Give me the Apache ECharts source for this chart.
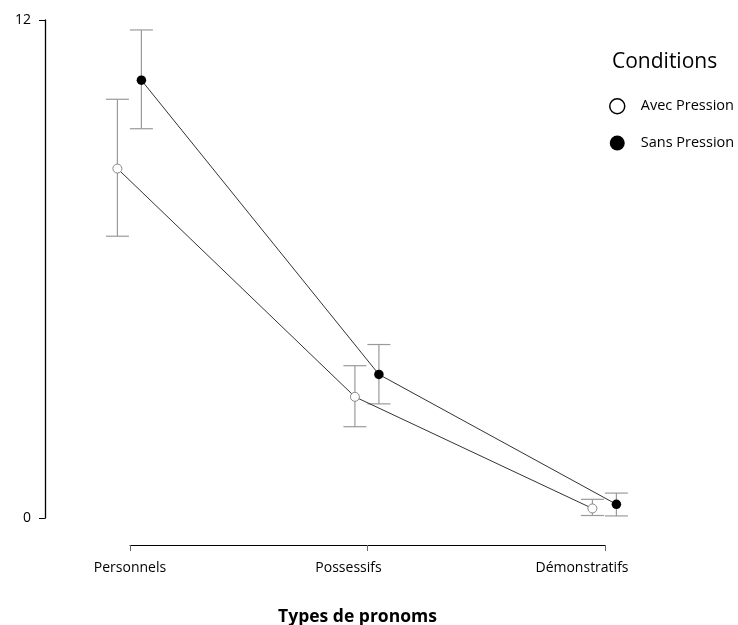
<!DOCTYPE html>
<html>
<head>
<meta charset="utf-8">
<script src="https://cdn.jsdelivr.net/npm/echarts@6/dist/echarts.min.js"></script>
<style>
  html, body { margin: 0; padding: 0; background: #fff; }
  #chart { width: 738px; height: 625px; }
</style>
</head>
<body>
<div id="chart"></div>
<script>
// Pronoun types on the x axis
const categories = ['Personnels', 'Possessifs', 'Démonstratifs'];
const seriesNames = ['Avec Pression', 'Sans Pression'];

// Means per condition
const avecMean = [8.42, 2.92, 0.23];
const sansMean = [10.55, 3.46, 0.33];

// Error bar bounds per condition
const avecLow  = [6.79, 2.20, 0.06];
const avecHigh = [10.09, 3.67, 0.45];
const sansLow  = [9.38, 2.75, 0.05];
const sansHigh = [11.76, 4.18, 0.60];

// Y axis ticks
const yTicks = [0, 12];

// horizontal dodge of the two conditions around each category
const DODGE_AVEC = -0.053;
const DODGE_SANS = 0.048;

const FONT = 'Open Sans';

// Layout: the plotting grid starts at the y axis; the category axis
// is a shorter, separate grid that sits under the data.
const PLOT_LEFT = 45, PLOT_TOP = 20, PLOT_HEIGHT = 498;
const CAT_LEFT = 130, CAT_WIDTH = 475;
const UNIT = CAT_WIDTH / (categories.length - 1);
const X_MIN = -(CAT_LEFT - PLOT_LEFT) / UNIT;
const X_MAX = 2.5;
const PLOT_WIDTH = (X_MAX - X_MIN) * UNIT;

function points(means, dodge) {
  return means.map((v, i) => [i + dodge, v]);
}
function bars(low, high, dodge) {
  return low.map((l, i) => [i + dodge, l, high[i]]);
}

function errorBarItem(params, api) {
  const x = api.value(0);
  const lo = api.coord([x, api.value(1)]);
  const hi = api.coord([x, api.value(2)]);
  const half = 11.5;
  const style = { stroke: '#9a9a9a', lineWidth: 1.2 };
  return {
    type: 'group',
    children: [
      { type: 'line', shape: { x1: lo[0], y1: lo[1], x2: hi[0], y2: hi[1] }, style },
      { type: 'line', shape: { x1: hi[0] - half, y1: hi[1], x2: hi[0] + half, y2: hi[1] }, style },
      { type: 'line', shape: { x1: lo[0] - half, y1: lo[1], x2: lo[0] + half, y2: lo[1] }, style }
    ]
  };
}

const chart = echarts.init(document.getElementById('chart'), null, { renderer: 'canvas' });

chart.setOption({
  animation: false,
  backgroundColor: '#fff',
  textStyle: { fontFamily: FONT },
  title: {
    text: 'Conditions',
    left: 607,
    top: 47,
    textStyle: { fontFamily: FONT, fontSize: 21, fontWeight: 'normal', color: '#000' }
  },
  legend: {
    orient: 'vertical',
    left: 604,
    top: 93,
    itemWidth: 15,
    itemHeight: 15,
    itemGap: 21,
    selectedMode: false,
    textStyle: { fontFamily: FONT, fontSize: 14.5, color: '#000', padding: [0, 0, 0, 11] },
    data: [
      { name: seriesNames[0], icon: 'circle', itemStyle: { color: '#fff', borderColor: '#000', borderWidth: 1.5 } },
      { name: seriesNames[1], icon: 'circle', itemStyle: { color: '#000', borderColor: '#000', borderWidth: 0 } }
    ]
  },
  grid: [
    { left: PLOT_LEFT, top: PLOT_TOP, width: PLOT_WIDTH, height: PLOT_HEIGHT, outerBoundsMode: 'none', containLabel: false },
    { left: CAT_LEFT, top: PLOT_TOP, width: CAT_WIDTH, height: PLOT_HEIGHT, outerBoundsMode: 'none', containLabel: false }
  ],
  xAxis: [
    {
      gridIndex: 0,
      type: 'value',
      min: X_MIN,
      max: X_MAX,
      show: false
    },
    {
      gridIndex: 1,
      type: 'value',
      min: 0,
      max: categories.length - 1,
      interval: 1,
      offset: 27,
      splitLine: { show: false },
      axisLine: { show: true, onZero: false, lineStyle: { color: '#000', width: 1 } },
      axisTick: { show: true, length: 6, lineStyle: { color: '#666', width: 1 } },
      axisLabel: {
        margin: 16,
        fontFamily: FONT,
        fontSize: 14,
        color: '#000',
        formatter: function (v) {
          const i = Math.round(v);
          const keys = ['a', 'b', 'c'];
          return '{' + keys[i] + '|' + categories[i] + '}';
        },
        rich: {
          a: { fontFamily: FONT, fontSize: 14, color: '#000' },
          b: { fontFamily: FONT, fontSize: 14, color: '#000', padding: [0, 38, 0, 0] },
          c: { fontFamily: FONT, fontSize: 14, color: '#000', padding: [0, 46, 0, 0] }
        }
      },
      name: 'Types de pronoms',
      nameLocation: 'middle',
      nameGap: 63,
      nameTextStyle: { fontFamily: FONT, fontSize: 17.5, fontWeight: 'bold', color: '#000', padding: [0, 20, 0, 0] }
    }
  ],
  yAxis: [
    {
      gridIndex: 0,
      type: 'value',
      min: yTicks[0],
      max: yTicks[yTicks.length - 1],
      interval: yTicks[1] - yTicks[0],
      splitLine: { show: false },
      axisLine: { show: true, onZero: false, lineStyle: { color: '#000', width: 1.3 } },
      axisTick: { show: true, length: 6, lineStyle: { color: '#000', width: 1 } },
      axisLabel: { margin: 14, fontFamily: FONT, fontSize: 14, color: '#000' }
    },
    {
      gridIndex: 1,
      type: 'value',
      min: yTicks[0],
      max: yTicks[yTicks.length - 1],
      show: false
    }
  ],
  series: [
    {
      type: 'custom',
      name: 'err-avec',
      renderItem: errorBarItem,
      clip: false,
      silent: true,
      z: 1,
      encode: { x: 0, y: [1, 2] },
      data: bars(avecLow, avecHigh, DODGE_AVEC)
    },
    {
      type: 'custom',
      name: 'err-sans',
      renderItem: errorBarItem,
      clip: false,
      silent: true,
      z: 1,
      encode: { x: 0, y: [1, 2] },
      data: bars(sansLow, sansHigh, DODGE_SANS)
    },
    {
      type: 'line',
      name: seriesNames[0],
      data: points(avecMean, DODGE_AVEC),
      clip: false,
      z: 3,
      symbol: 'circle',
      symbolSize: 9,
      lineStyle: { color: '#333', width: 1 },
      itemStyle: { color: '#fff', borderColor: '#888', borderWidth: 1 }
    },
    {
      type: 'line',
      name: seriesNames[1],
      data: points(sansMean, DODGE_SANS),
      clip: false,
      z: 3,
      symbol: 'circle',
      symbolSize: 9.5,
      lineStyle: { color: '#333', width: 1 },
      itemStyle: { color: '#000', borderColor: '#000', borderWidth: 0 }
    }
  ]
});
</script>
</body>
</html>
